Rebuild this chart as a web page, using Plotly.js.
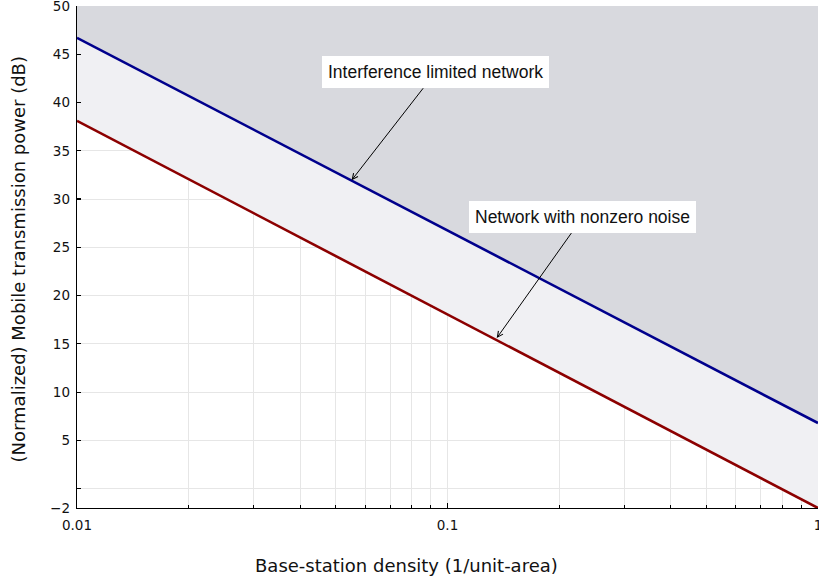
<!DOCTYPE html>
<html>
<head>
<meta charset="utf-8">
<script src="https://cdn.plot.ly/plotly-3.0.1.min.js"></script>
<style>html,body{margin:0;padding:0;background:#fff;}#chart{width:819px;height:582px;}</style>
</head>
<body>
<div id="chart"></div>
<script>
// Base-station density (1/unit-area)
const density = [0.01, 0.1, 1];
// Interference limited network (dB)
const interferenceLimited = [46.7, 26.75, 6.8];
// Network with nonzero noise (dB)
const nonzeroNoise = [38.1, 18.05, -2.0];
// upper edge of the shaded region (dB)
const upperEdge = [50, 50, 50];

const xMajorTicks = [0.01, 0.1, 1];
const xMajorLabels = ["0.01", "0.1", "1"];
const xMinorTicks = [0.02, 0.03, 0.04, 0.05, 0.06, 0.07, 0.08, 0.09,
                     0.2, 0.3, 0.4, 0.5, 0.6, 0.7, 0.8, 0.9];
const yTicks = [-2, 0, 5, 10, 15, 20, 25, 30, 35, 40, 45, 50];
const yLabels = ["\u22122", "", "5", "10", "15", "20", "25", "30", "35", "40", "45", "50"];

const annoLabels = ["Interference limited network", "Network with nonzero noise"];
const annoX = [0.0551, 0.1358];
const annoY = [31.95, 15.6];

const traces = [
  {x: density, y: upperEdge, mode: 'lines', line: {width: 0, color: 'rgba(0,0,0,0)'},
   hoverinfo: 'skip', showlegend: false},
  {x: density, y: interferenceLimited, mode: 'lines', fill: 'tonexty',
   fillcolor: 'rgb(216,217,222)', line: {color: 'rgb(0,0,140)', width: 2.6},
   showlegend: false},
  {x: density, y: nonzeroNoise, mode: 'lines', fill: 'tonexty',
   fillcolor: 'rgb(240,240,243)', line: {color: 'rgb(140,0,0)', width: 2.6},
   showlegend: false}
];

const tickFont = {family: 'DejaVu Sans', size: 13.5, color: '#111'};
const layout = {
  width: 819, height: 582,
  margin: {l: 77, r: 1, t: 6, b: 74},
  paper_bgcolor: '#fff', plot_bgcolor: '#fff',
  showlegend: false,
  xaxis: {
    type: 'log', range: [-2, 0],
    tickmode: 'array', tickvals: xMajorTicks, ticktext: xMajorLabels,
    ticks: 'inside', ticklen: 5, tickwidth: 1.2, tickcolor: '#000',
    showline: true, linecolor: '#000', linewidth: 1.3,
    showgrid: true, gridcolor: '#e6e6e6', gridwidth: 1,
    zeroline: false, tickfont: tickFont, ticklabelstandoff: 4,
    ticklabeloverflow: 'allow',
    minor: {tickmode: 'array', tickvals: xMinorTicks, ticks: 'inside', ticklen: 3,
            tickcolor: '#000', tickwidth: 1, showgrid: true, gridcolor: '#e6e6e6', gridwidth: 1}
  },
  yaxis: {
    range: [-2, 50],
    tickmode: 'array', tickvals: yTicks, ticktext: yLabels,
    ticks: 'inside', ticklen: 4, tickwidth: 1.2, tickcolor: '#000',
    showline: true, linecolor: '#000', linewidth: 1.3,
    showgrid: true, gridcolor: '#e6e6e6', gridwidth: 1,
    zeroline: false, tickfont: tickFont, ticklabelstandoff: 3,
    ticklabeloverflow: 'allow'
  },
  annotations: [
    {xref: 'x', yref: 'y', x: Math.log10(annoX[0]), y: annoY[0], text: annoLabels[0],
     showarrow: true, arrowhead: 5, arrowsize: 1.1, arrowwidth: 1, arrowcolor: '#000',
     axref: 'pixel', ayref: 'pixel', ax: 84, ay: -108,
     bgcolor: '#fff', borderpad: 6, borderwidth: 0,
     font: {family: 'Liberation Sans', size: 17.5, color: '#111'}},
    {xref: 'x', yref: 'y', x: Math.log10(annoX[1]), y: annoY[1], text: annoLabels[1],
     showarrow: true, arrowhead: 5, arrowsize: 1.1, arrowwidth: 1, arrowcolor: '#000',
     axref: 'pixel', ayref: 'pixel', ax: 86, ay: -121,
     bgcolor: '#fff', borderpad: 6, borderwidth: 0,
     font: {family: 'Liberation Sans', size: 17.5, color: '#111'}},
    {xref: 'paper', yref: 'paper', x: (406.7 - 77) / 741, y: -0.115, yanchor: 'middle',
     xanchor: 'center', showarrow: false, text: 'Base-station density (1/unit-area)',
     font: {family: 'DejaVu Sans', size: 18, color: '#111'}},
    {xref: 'paper', yref: 'paper', x: (19 - 77) / 741, y: 0.495, xanchor: 'center',
     yanchor: 'middle', textangle: -90, showarrow: false,
     text: '(Normalized) Mobile transmission power (dB)',
     font: {family: 'DejaVu Sans', size: 18, color: '#111'}}
  ]
};

Plotly.newPlot('chart', traces, layout, {displayModeBar: false, staticPlot: true});
</script>
</body>
</html>
